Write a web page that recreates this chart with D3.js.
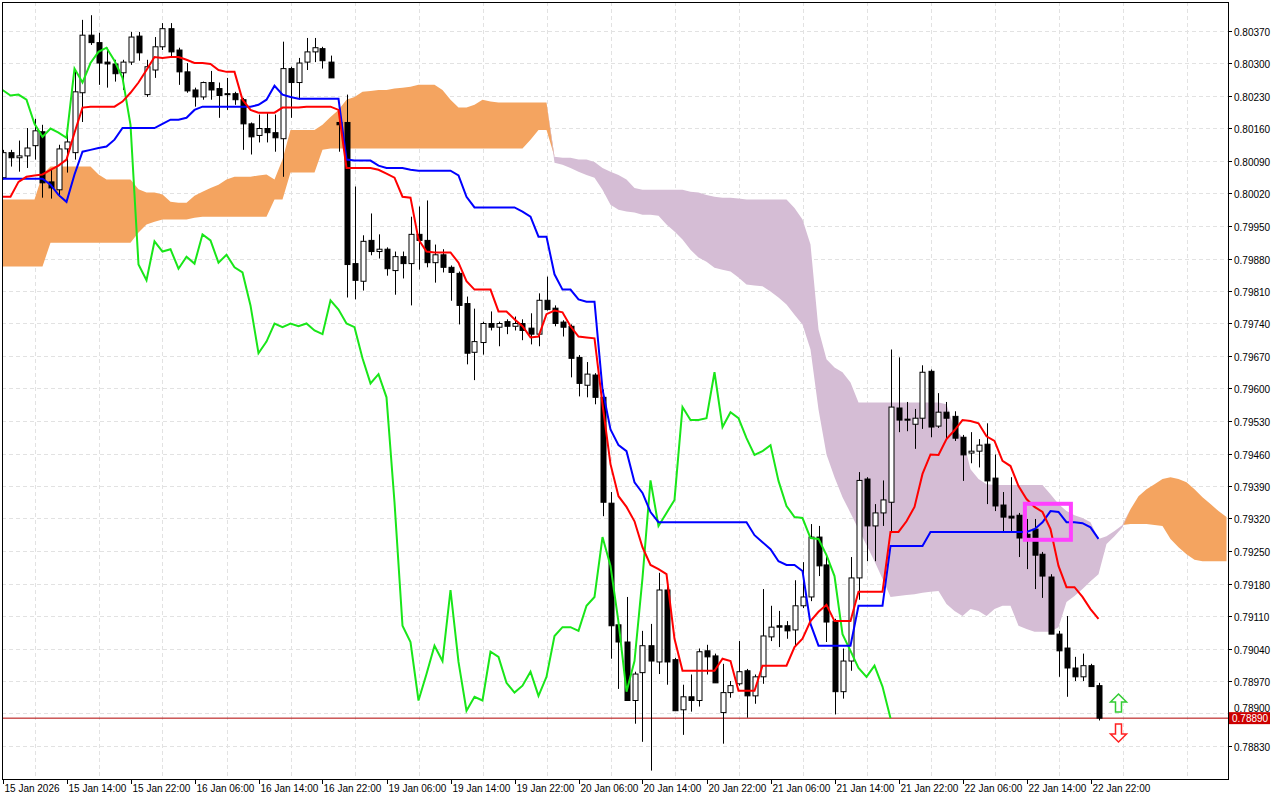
<!DOCTYPE html>
<html><head><meta charset="utf-8">
<script src="https://cdn.jsdelivr.net/npm/d3@7"></script>
<style>html,body{margin:0;padding:0;background:#fff;overflow:hidden}svg{display:block}text{font-family:"Liberation Sans",Arial,sans-serif;font-size:10px;fill:#000}</style>
</head><body><svg id="c" width="1280" height="800"></svg>
<script>
// Prices in points (1 point = 0.00001), H1 bars
const open=[80054,80108,80097,80101,80123,80153,80045,80028,80116,80108,
80237,80361,80345,80303,80299,80280,80303,80359,80233,80286,
80336,80375,80329,80282,80243,80228,80259,80246,80235,80235,
80222,80170,80145,80160,80151,80138,80289,80259,80303,80325,
80332,80303,80173,80173,79869,79831,79919,79895,79900,79854,
79884,79869,79932,79919,79871,79888,79861,79848,79783,79678,
79699,79740,79732,79744,79734,79740,79730,79717,79790,79773,
79743,79734,79667,79607,79629,79581,79353,79091,79054,78928,
78988,79046,79011,79166,79016,78908,78936,78928,79035,79024,
78902,78945,78964,78992,78938,78979,79065,79089,79089,79080,
79132,79151,79280,79220,79099,78947,79013,79192,79405,79304,
79332,79355,79558,79534,79523,79536,79637,79519,79549,79540,
79495,79461,79465,79480,79407,79349,79325,79327,79286,79297,
79243,79194,79071,79041,78998,78979,79003,78960];
const high=[80114,80114,80134,80161,80181,80168,80071,80125,80157,80286,
80394,80404,80366,80334,80308,80308,80368,80368,80308,80357,
80387,80387,80334,80301,80248,80261,80284,80259,80269,80239,
80226,80173,80190,80194,80190,80347,80293,80312,80355,80355,
80336,80317,80205,80233,80035,79930,79977,79932,79904,79895,
79895,79970,79992,80005,79910,79900,79865,79852,79798,79772,
79744,79766,79744,79749,79755,79749,79762,79805,79841,79779,
79747,79738,79672,79657,79633,79598,79377,79095,79151,78990,
79078,79093,79203,79192,79020,78962,78984,79040,79048,79029,
79007,78970,79056,78996,78984,79168,79132,79121,79099,79187,
79226,79308,79304,79239,79104,79040,79237,79420,79409,79351,
79402,79684,79667,79571,79556,79650,79641,79590,79571,79551,
79500,79506,79491,79525,79458,79377,79409,79332,79319,79319,
79248,79200,79078,79110,79022,79029,79007,78966];
const low=[80050,80078,80067,80075,80093,80011,80009,80013,80065,80093,
80174,80340,80254,80248,80261,80243,80297,80306,80228,80269,
80329,80314,80254,80237,80207,80222,80222,80183,80200,80211,
80114,80104,80130,80130,80110,80056,80183,80222,80286,80303,
80289,80269,80110,79796,79792,79811,79887,79880,79843,79802,
79837,79779,79856,79861,79828,79850,79789,79738,79652,79618,
79673,79725,79691,79717,79725,79704,79695,79691,79768,79734,
79712,79624,79583,79581,79566,79325,79018,78953,78928,78878,
78839,78777,78985,78962,78906,78854,78904,78915,78984,78966,
78835,78934,78960,78891,78921,78964,79056,79043,79061,79046,
79127,79142,79196,79054,78898,78932,78992,79145,79228,79228,
79304,79293,79506,79508,79470,79513,79495,79515,79491,79487,
79401,79439,79430,79351,79336,79293,79293,79237,79211,79168,
79149,79071,78979,78936,78970,78970,78958,78885];
const close=[80108,80097,80101,80118,80155,80043,80032,80116,80131,80239,
80361,80345,80301,80299,80278,80303,80357,80323,80293,80336,
80375,80325,80282,80241,80228,80259,80243,80231,80233,80222,
80170,80142,80160,80151,80140,80289,80259,80301,80325,80334,
80306,80269,80168,79867,79833,79917,79895,79900,79858,79884,
79869,79932,79919,79871,79888,79861,79850,79779,79676,79701,
79740,79732,79740,79734,79740,79725,79717,79790,79770,79740,
79732,79665,79611,79631,79581,79355,79089,79054,78928,78985,
79046,79013,79166,79011,78906,78936,78928,79033,79022,78966,
78945,78960,78990,78938,78979,79067,79086,79086,79078,79132,
79151,79280,79218,79097,78947,79013,79192,79402,79304,79332,
79360,79560,79532,79532,79536,79635,79517,79549,79536,79493,
79457,79465,79478,79401,79347,79323,79321,79278,79276,79241,
79196,79071,79035,78998,78979,79003,78958,78890];
const tenkan=[80013,80013,80045,80056,80059,80061,80071,80080,80093,80151,
80205,80207,80207,80207,80207,80218,80237,80259,80286,80314,
80312,80314,80314,80308,80301,80301,80299,80286,80282,80282,
80222,80200,80194,80194,80194,80205,80205,80205,80207,80207,
80207,80207,80200,80075,80075,80075,80075,80071,80063,80054,
80013,80011,79921,79895,79893,79893,79893,79871,79831,79813,
79813,79813,79766,79766,79749,79734,79710,79712,79760,79768,
79764,79734,79712,79710,79708,79566,79437,79368,79345,79314,
79258,79220,79211,79200,79061,78992,78992,78992,78992,78992,
79018,79013,78949,78949,78949,79003,79003,79003,79003,79043,
79061,79099,79119,79134,79099,79099,79099,79162,79162,79162,
79162,79291,79291,79314,79345,79416,79458,79457,79491,79510,
79532,79530,79525,79497,79487,79444,79433,79390,79362,79345,
79334,79297,79218,79172,79172,79151,79125,79104];
const kijun=[80052,80052,80052,80052,80052,80052,80039,80017,80002,80061,
80110,80114,80118,80121,80136,80161,80161,80161,80161,80161,
80170,80179,80179,80183,80200,80207,80207,80207,80207,80207,
80207,80207,80211,80222,80252,80233,80228,80224,80224,80224,
80224,80224,80224,80093,80091,80091,80091,80080,80075,80075,
80075,80071,80069,80069,80069,80069,80069,80059,80013,79990,
79990,79990,79990,79990,79990,79981,79970,79927,79927,79846,
79813,79813,79792,79787,79787,79598,79512,79478,79465,79398,
79375,79334,79312,79312,79312,79312,79312,79312,79312,79312,
79312,79312,79312,79312,79284,79269,79254,79228,79220,79220,
79207,79093,79046,79046,79046,79046,79046,79132,79132,79132,
79132,79261,79261,79261,79261,79261,79291,79291,79291,79291,
79291,79291,79291,79291,79291,79291,79291,79291,79291,79297,
79312,79336,79334,79312,79312,79310,79301,79276];
// Senkou spans as plotted (already shifted 26 bars forward)
const spanA=[80007,80007,80007,80007,80007,80061,80078,80078,80078,80078,
80078,80078,80061,80050,80050,80050,80050,80029,80022,80022,
80018,80002,80000,80000,80015,80024,80032,80039,80050,80056,
80056,80056,80059,80061,80050,80093,80157,80157,80157,80157,
80168,80185,80200,80222,80228,80239,80241,80243,80243,80246,
80248,80250,80254,80254,80254,80243,80222,80205,80205,80211,
80222,80218,80216,80216,80216,80216,80216,80216,80216,80086,
80082,80075,80067,80060,80054,80028,79996,79985,79981,79979,
79974,79974,79972,79953,79938,79921,79899,79882,79873,79860,
79856,79852,79839,79824,79822,79820,79809,79796,79781,79759,
79738,79684,79555,79458,79409,79366,79332,79297,79263,79228,
79190,79151,79153,79155,79157,79160,79162,79164,79136,79121,
79110,79125,79121,79110,79125,79132,79132,79089,79082,79076,
79076,79076,79086,79140,79153,79168,79185,79200,79265,79282,
79301,79340,79368,79383,79394,79405,79409,79405,79398,79383,
79366,79351,79336,79323];
const spanB=[79863,79863,79863,79863,79863,79863,79914,79914,79914,79914,
79914,79914,79914,79914,79914,79914,79914,79936,79953,79959,
79964,79964,79964,79964,79968,79970,79970,79970,79970,79970,
79970,79970,79970,79970,80007,80007,80065,80065,80065,80065,
80114,80117,80117,80117,80117,80117,80117,80117,80117,80117,
80117,80117,80117,80117,80117,80117,80117,80117,80117,80117,
80117,80117,80117,80117,80117,80117,80136,80157,80157,80099,
80097,80097,80093,80093,80088,80075,80067,80060,80050,80032,
80028,80028,80028,80028,80028,80028,80024,80022,80017,80013,
80011,80011,80009,80007,80007,80007,80007,80007,80007,79989,
79964,79910,79727,79663,79645,79635,79613,79570,79570,79570,
79570,79570,79570,79570,79570,79570,79570,79570,79566,79512,
79495,79426,79405,79394,79392,79392,79392,79392,79392,79392,
79392,79372,79351,79336,79327,79321,79312,79276,79282,79293,
79306,79308,79308,79308,79306,79304,79276,79258,79243,79231,
79228,79228,79228,79228];
const timeLabels=["15 Jan 2026","15 Jan 14:00","15 Jan 22:00","16 Jan 06:00","16 Jan 14:00","16 Jan 22:00","19 Jan 06:00","19 Jan 14:00","19 Jan 22:00","20 Jan 06:00","20 Jan 14:00","20 Jan 22:00","21 Jan 06:00","21 Jan 14:00","21 Jan 22:00","22 Jan 06:00","22 Jan 14:00","22 Jan 22:00"];
const priceTicks=[78830,78900,78970,79040,79110,79180,79250,79320,79390,79460,79530,79600,79670,79740,79810,79880,79950,80020,80090,80160,80230,80300,80370];
const lastPrice=78890;
const chikouShift=26;

const P=v=>v/1e5;
const svg=d3.select("#c");
const L=2,R=1228,T=2,B=779;
const x=d3.scaleLinear().domain([0,137]).range([2.5,1098.5]);
const y=d3.scaleLinear().domain([P(78830),P(80370)]).range([746,31]);
const defs=svg.append("defs");
defs.append("clipPath").attr("id","pc").append("rect").attr("x",L).attr("y",T).attr("width",R-L).attr("height",B-T);
const g=svg.append("g").attr("clip-path","url(#pc)");

priceTicks.forEach(p=>g.append("line").attr("x1",L).attr("x2",R).attr("y1",Math.round(y(P(p)))+0.5).attr("y2",Math.round(y(P(p)))+0.5).attr("stroke","#e2e2e2").attr("stroke-dasharray","4,3"));
for(let k=0;k<19;k++){const xx=Math.round(x(4+8*k))+0.5;g.append("line").attr("x1",xx).attr("x2",xx).attr("y1",T).attr("y2",B).attr("stroke","#e2e2e2").attr("stroke-dasharray","4,3");}

const idx=d3.range(spanA.length);
const orange=d3.area().x(i=>x(i)).y0(i=>y(P(spanB[i]))).y1(i=>y(P(Math.max(spanA[i],spanB[i]))));
const purple=d3.area().x(i=>x(i)).y0(i=>y(P(spanA[i]))).y1(i=>y(P(Math.max(spanA[i],spanB[i]))));
g.append("path").attr("d",orange(idx)).attr("fill","#F4A460");
g.append("path").attr("d",purple(idx)).attr("fill","#D5BDD5");

g.append("line").attr("x1",L).attr("x2",R).attr("y1",y(P(lastPrice))).attr("y2",y(P(lastPrice))).attr("stroke","#b00000").attr("stroke-width",1);

const ci=d3.range(open.length);
g.selectAll(".w").data(ci).enter().append("line").attr("x1",i=>Math.round(x(i))+0.5).attr("x2",i=>Math.round(x(i))+0.5)
 .attr("y1",i=>y(P(high[i]))).attr("y2",i=>y(P(low[i]))).attr("stroke","#000");
g.selectAll(".b").data(ci).enter().append("rect").attr("x",i=>Math.round(x(i))-2).attr("width",5)
 .attr("y",i=>y(P(Math.max(open[i],close[i])))).attr("height",i=>Math.max(1,Math.abs(y(P(open[i]))-y(P(close[i])))))
 .attr("fill",i=>close[i]>=open[i]?"#fff":"#000").attr("stroke","#000").attr("stroke-width",1);

const ln=arr=>d3.line().x((d,i)=>x(i)).y(d=>y(P(d)))(arr);
g.append("path").attr("d",d3.line().x(i=>x(i-chikouShift)).y(i=>y(P(close[i])))(d3.range(chikouShift,close.length))).attr("fill","none").attr("stroke","#19e619").attr("stroke-width",2);
g.append("path").attr("d",ln(kijun)).attr("fill","none").attr("stroke","#0000ff").attr("stroke-width",2);
g.append("path").attr("d",ln(tenkan)).attr("fill","none").attr("stroke","#ff0000").attr("stroke-width",2);

g.append("rect").attr("x",x(127.8)).attr("y",y(P(79300))-24).attr("width",46).attr("height",36).attr("fill","none").attr("stroke","#ff40ff").attr("stroke-width",4);

const ax=x(139.5);
function arrow(cy,up,col){const s=up?1:-1;const pts=[[0,-9*s],[8,-1*s],[3,-1*s],[3,9*s],[-3,9*s],[-3,-1*s],[-8,-1*s]];
 svg.append("polygon").attr("points",pts.map(p=>[ax+p[0],cy+p[1]].join(",")).join(" ")).attr("fill","#fff").attr("stroke",col).attr("stroke-width",1.5);}
arrow(703,true,"#33cc33");arrow(733,false,"#ff2020");

svg.append("rect").attr("x",L+0.5).attr("y",T+0.5).attr("width",R-L).attr("height",B-T).attr("fill","none").attr("stroke","#000");

priceTicks.forEach(p=>{const yy=Math.round(y(P(p)))+0.5;
 svg.append("line").attr("x1",R).attr("x2",R+4).attr("y1",yy).attr("y2",yy).attr("stroke","#000");
 if(p!==78900) svg.append("text").attr("x",R+6).attr("y",yy+4).text(P(p).toFixed(5));});
const ly=y(P(lastPrice));
// tick label 0.78900 is mostly covered by the current-price badge in the reference
svg.append("text").attr("x",R+6).attr("y",Math.round(y(P(78900)))-1).attr("font-size","6px").text(P(78900).toFixed(5));
svg.append("rect").attr("x",R+1).attr("y",ly-6).attr("width",41).attr("height",12).attr("fill","#cc0000");
svg.append("text").attr("x",R+4).attr("y",ly+4).style("fill","#fff").text(P(lastPrice).toFixed(5));

timeLabels.forEach((t,k)=>{const xx=Math.round(x(8*k))+0.5;
 svg.append("line").attr("x1",xx).attr("x2",xx).attr("y1",B).attr("y2",B+5).attr("stroke","#000");
 svg.append("text").attr("x",xx+1).attr("y",B+13).text(t);});
</script></body></html>
